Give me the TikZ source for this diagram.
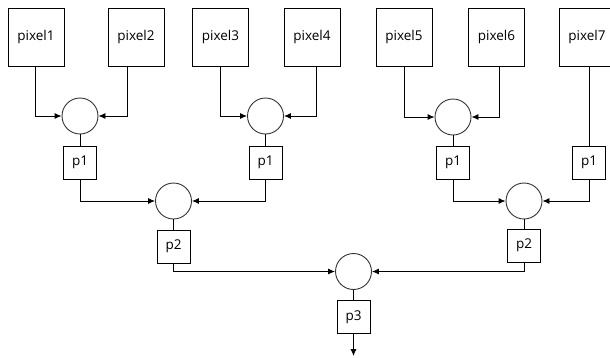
\documentclass[tikz,border=0pt]{standalone}
\usepackage{fontspec}
\setmainfont{Open Sans}
\usetikzlibrary{arrows.meta}
\begin{document}
\begin{tikzpicture}[x=1pt,y=-1pt,>={Latex[length=7pt,width=6pt]},line width=0.9pt,
	pix/.style={draw,minimum width=56pt,minimum height=58pt,inner sep=0pt,font=\fontsize{13.5}{15}\selectfont},
	prob/.style={draw,minimum size=33pt,inner sep=0pt,font=\fontsize{13.5}{15}\selectfont},
	sum/.style={draw,circle,minimum size=36pt,inner sep=0pt,draw=black!80}]
	\useasboundingbox (0,0) rectangle (610,357);
	\foreach \i/\x in {1/36,2/136,3/220.5,4/312,5/404,6/496.5,7/587}
		\node[pix] (pixel\i) at (\x,37) {pixel\i};
	% sum nodes
	\node[sum] (s1) at (80,116) {};
	\node[sum] (s2) at (265.5,116) {};
	\node[sum] (s3) at (453,117) {};
	\node[sum] (s4) at (173.5,201) {};
	\node[sum] (s5) at (524,201) {};
	\node[sum] (s6) at (353.5,271.5) {};
	\node[prob] (p1a) at (80,162.5) {p1};
	\node[prob] (p1b) at (265.5,162.5) {p1};
	\node[prob] (p1c) at (453,162.5) {p1};
	\node[prob] (p1d) at (589,162.5) {p1};
	\node[prob] (p2a) at (173.5,246.5) {p2};
	\node[prob] (p2b) at (524,245.5) {p2};
	\node[prob] (p3) at (353.5,317) {p3};
	\coordinate (out) at (353.5,356);
	\draw[->] ([xshift=-1pt]pixel1.south) |- (s1);
	\draw[->] ([xshift=-9pt]pixel2.south) |- (s1);
	\draw[->] (pixel3.south) |- (s2);
	\draw[->] ([xshift=4pt]pixel4.south) |- (s2);
	\draw[->] (pixel5.south) |- (s3);
	\draw[->] ([xshift=2.5pt]pixel6.south) |- (s3);
	\draw (pixel7.south -| p1d.north) -- (p1d.north);
	\foreach \s/\p in {s1/p1a,s2/p1b,s3/p1c,s4/p2a,s5/p2b,s6/p3}
		\draw (\s.south) -- (\p.north);
	\draw[->] (p1a.south) |- (s4);
	\draw[->] (p1b.south) |- (s4);
	\draw[->] (p1c.south) |- (s5);
	\draw[->] (p1d.south) |- (s5);
	\draw[->] (p2a.south) |- (s6);
	\draw[->] (p2b.south) |- (s6);
	\draw[->] (p3.south) -- (out);
\end{tikzpicture}
\end{document}
